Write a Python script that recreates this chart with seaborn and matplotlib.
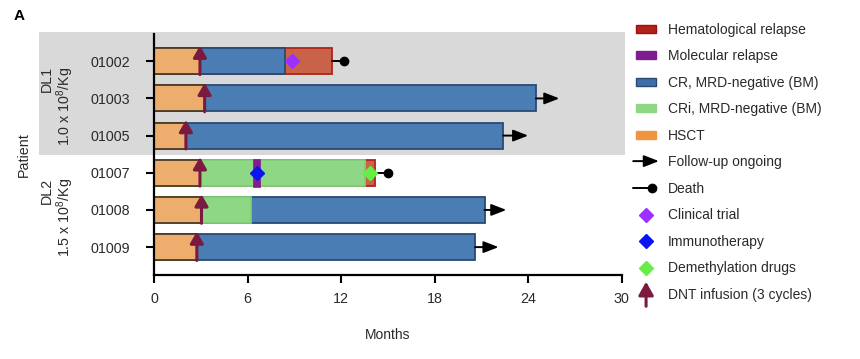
import matplotlib
matplotlib.use("Agg")
import matplotlib.pyplot as plt
import matplotlib.transforms as mtransforms
from matplotlib.patches import Patch, Rectangle, FancyArrowPatch
from matplotlib.lines import Line2D
from matplotlib.legend_handler import HandlerBase
import seaborn as sns
import pandas as pd
import numpy as np

nan = np.nan

# swimmer plot data (months)
patients = ["01002", "01003", "01005", "01007", "01008", "01009"]
hsct_end = [2.95, 3.25, 2.05, 2.95, 3.05, 2.75]
cri_end = [nan, nan, nan, 13.55, 6.2, nan]
cr_end = [8.4, 24.5, 22.4, nan, 21.2, 20.6]
relapse_end = [11.4, nan, nan, 14.2, nan, nan]
dnt_time = [2.95, 3.25, 2.05, 2.95, 3.05, 2.75]
ongoing_tip = [nan, 26.0, 24.0, nan, 22.6, 22.1]
death_time = [12.2, nan, nan, 15.0, nan, nan]
mol_patient = ["01007"]
mol_start = [6.35]
mol_end = [6.8]
trial_patient, trial_time = ["01002"], [8.85]
immuno_patient, immuno_time = ["01007"], [6.6]
demeth_patient, demeth_time = ["01007"], [13.85]
groups = ["DL1\n1.0 x 10$\\mathregular{^8}$/Kg", "DL2\n1.5 x 10$\\mathregular{^8}$/Kg"]
group_center = [1.2, 4.2]
xticks = [0, 6, 12, 18, 24, 30]

C_RED, E_RED = "#C8634A", "#B0231A"
C_MOL = "#7E1E8E"
C_CR, E_CR = "#4A7DB4", "#2A4A72"
C_CRI, E_CRI = "#8ED785", "#80CC77"
C_HSCT, E_HSCT = "#EDAD6C", "#4D3B28"
C_DNT = "#7A1A3E"
TXT = "#2a2a2a"

sns.set_style("ticks")
plt.rcParams["font.family"] = ["Liberation Sans", "DejaVu Sans"]
plt.rcParams["text.color"] = TXT

fig, ax = plt.subplots(figsize=(8.6, 3.59), dpi=100)
fig.subplots_adjust(left=0.179, right=0.723, top=0.905, bottom=0.234)

df = pd.DataFrame({"patient": patients, "hsct": hsct_end, "cri": cri_end,
                   "cr": cr_end, "rel": relapse_end})

# layered bars: longest segment first, shorter ones on top
layers = [("rel", C_RED, E_RED), ("cr", C_CR, E_CR),
          ("cri", C_CRI, E_CRI), ("hsct", C_HSCT, E_HSCT)]
for col, fc, ec in layers:
    d = df[df[col].notna()]
    sns.barplot(data=d, x=col, y="patient", order=patients, orient="h",
                color=fc, edgecolor=ec, linewidth=1.3, width=0.7,
                saturation=1, errorbar=None, ax=ax, zorder=2)

pos = {p: i for i, p in enumerate(patients)}

# molecular relapse
for p, s, e in zip(mol_patient, mol_start, mol_end):
    ax.barh(pos[p], e - s, left=s, height=0.74, color=C_MOL, edgecolor=C_MOL,
            linewidth=0.5, zorder=3)

# follow-up and death
last_end = df[["hsct", "cri", "cr", "rel"]].max(axis=1).values
for i, (tip, dt) in enumerate(zip(ongoing_tip, death_time)):
    if not np.isnan(tip):
        ax.annotate("", xy=(tip, i), xytext=(last_end[i], i),
                    arrowprops=dict(arrowstyle="-|>,head_length=0.9,head_width=0.35",
                                    mutation_scale=10, color="black", lw=1.4,
                                    shrinkA=0, shrinkB=0), zorder=4)
    if not np.isnan(dt):
        ax.plot([last_end[i], dt], [i, i], color="black", lw=1.4, zorder=4)
        ax.plot(dt, i, "o", color="black", ms=6, zorder=5)

# DNT infusions
for i, t in enumerate(dnt_time):
    ax.annotate("", xy=(t, i - 0.42), xytext=(t, i + 0.36),
                arrowprops=dict(arrowstyle="-|>,head_length=0.7,head_width=0.4",
                                mutation_scale=10, color=C_DNT, lw=2.2,
                                shrinkA=0, shrinkB=0), zorder=6)

# treatments
for pl, tl, c in [(trial_patient, trial_time, "#9B30FF"),
                  (immuno_patient, immuno_time, "#0A14F0"),
                  (demeth_patient, demeth_time, "#66EE44")]:
    ax.plot(tl, [pos[p] for p in pl], "D", color=c, ms=6.8, zorder=7, linestyle="none")

# grey shaded DL1 block
tr = mtransforms.blended_transform_factory(ax.transAxes, ax.transData)
ax.add_patch(Rectangle((-0.246, -0.78), 1.252, 3.31, transform=tr,
                       facecolor="#D9D9D9", edgecolor="none", clip_on=False, zorder=0))

ax.set_xlim(0, 30)
ax.set_ylim(5.75, -0.73)
ax.set_xticks(xticks)
ax.set_xlabel("Months", fontsize=10, color=TXT, labelpad=16)
ax.set_ylabel("Patient", fontsize=10.3, color=TXT)
ax.yaxis.set_label_coords(-0.262, 0.5)
ax.tick_params(axis="both", length=6, width=1.5, labelsize=10.3, colors="black",
               labelcolor=TXT)
ax.tick_params(axis="y", pad=11)
ax.tick_params(axis="x", pad=6)
for s in ["top", "right"]:
    ax.spines[s].set_visible(False)
for s in ["left", "bottom"]:
    ax.spines[s].set_linewidth(1.6)
    ax.spines[s].set_color("black")

for g, yc in zip(groups, group_center):
    ax.text(-0.205, yc, g, transform=tr, rotation=90, ha="center",
            va="center", multialignment="right", fontsize=10.3, color=TXT,
            linespacing=1.05)

fig.text(0.016, 0.945, "A", fontsize=11, fontweight="bold", color="black")


class ArrowHandler(HandlerBase):
    def __init__(self, kind):
        super().__init__()
        self.kind = kind

    def create_artists(self, legend, orig_handle, xdescent, ydescent,
                       width, height, fontsize, trans):
        y = height / 2 - ydescent
        x0, x1 = -xdescent, -xdescent + width
        if self.kind == "ongoing":
            a = FancyArrowPatch((x0 - 2, y), (x1 + 2, y),
                                arrowstyle="-|>,head_length=0.9,head_width=0.35",
                                mutation_scale=10, color="black", lw=1.4,
                                shrinkA=0, shrinkB=0, transform=trans)
            return [a]
        if self.kind == "death":
            l = Line2D([x0 - 2, x1 - 3], [y, y], color="black", lw=1.4, transform=trans)
            m = Line2D([x1 - 3], [y], marker="o", ms=6, color="black", transform=trans)
            return [l, m]
        xc = (x0 + x1) / 2
        a = FancyArrowPatch((xc, y - 1.6 * height), (xc, y + 1.5 * height),
                            arrowstyle="-|>,head_length=0.8,head_width=0.45",
                            mutation_scale=10, color=C_DNT, lw=2.2,
                            shrinkA=0, shrinkB=0, transform=trans)
        return [a]


h_ongoing = Line2D([], [])
h_death = Line2D([], [])
h_dnt = Line2D([], [])
handles = [
    Patch(facecolor=E_RED, edgecolor="#A01010", lw=1),
    Patch(facecolor=C_MOL, edgecolor=C_MOL),
    Patch(facecolor="#3F6FA8", edgecolor="#2A4A72", lw=1),
    Patch(facecolor=C_CRI, edgecolor=C_CRI),
    Patch(facecolor="#F09440", edgecolor="#F09440"),
    h_ongoing, h_death,
    Line2D([], [], marker="D", color="#9B30FF", ms=6.8, linestyle="none"),
    Line2D([], [], marker="D", color="#0A14F0", ms=6.8, linestyle="none"),
    Line2D([], [], marker="D", color="#66EE44", ms=6.8, linestyle="none"),
    h_dnt,
]
labels = ["Hematological relapse", "Molecular relapse", "CR, MRD-negative (BM)",
          "CRi, MRD-negative (BM)", "HSCT", "Follow-up ongoing", "Death",
          "Clinical trial", "Immunotherapy", "Demethylation drugs", "DNT infusion (3 cycles)"]
fig.legend(handles, labels, loc="upper left", bbox_to_anchor=(0.725, 0.972),
           frameon=False, fontsize=10, handlelength=1.45, handleheight=0.5,
           handletextpad=0.85, labelspacing=0.9,
           handler_map={h_ongoing: ArrowHandler("ongoing"),
                        h_death: ArrowHandler("death"),
                        h_dnt: ArrowHandler("dnt")})

fig.savefig("out.png", dpi=100)
